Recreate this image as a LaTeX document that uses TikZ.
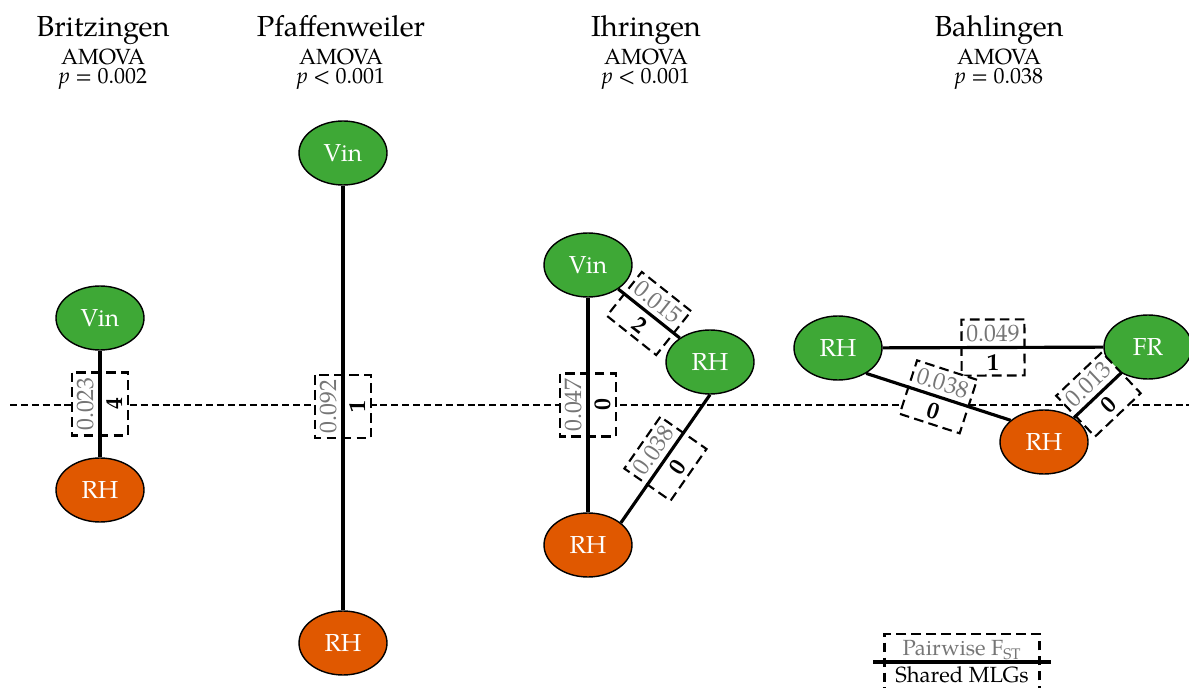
\documentclass[tikz,border=0pt]{standalone}
\usepackage{fontspec}
\setmainfont{TeX Gyre Pagella}
\usepackage{tikz}
\usepackage{xcolor}
\usetikzlibrary{shapes.geometric}

\definecolor{vingreen}{RGB}{62,168,54}
\definecolor{rhorange}{RGB}{224,88,0}
\definecolor{fstgray}{RGB}{118,118,118}

\newcommand{\fstval}[1]{\textcolor{fstgray}{#1}}
\newcommand{\mlgval}[1]{\textbf{#1}}

\tikzset{
  site/.style={ellipse, draw=black, line width=0.8pt, minimum width=1.76cm,
    minimum height=1.28cm, inner sep=0pt, text=white,
    font=\fontsize{14}{16}\selectfont},
  vinsite/.style={site, fill=vingreen},
  rhsite/.style={site, fill=rhorange},
  link/.style={line width=1.8pt},
  midline/.style={line width=1.1pt, dash pattern=on 4pt off 2.2pt},
  pairbox/.style={draw, fill=white, behind path, sloped, allow upside down,
    line width=1.2pt, dash pattern=on 5.5pt off 3pt, minimum width=1.26cm,
    inner xsep=2.5pt, inner ysep=3pt, align=center,
    font=\fontsize{13.5}{16.5}\selectfont},
  town/.style={anchor=base, font=\fontsize{16.5}{18}\selectfont},
  amova/.style={anchor=base, font=\fontsize{12.5}{14}\selectfont},
}

\begin{document}
\begin{tikzpicture}[x=0.02cm,y=-0.02cm]
        \useasboundingbox (0,0) rectangle (1189,688);

        % headers
        \node[town] (brzName) at (103,37) {Britzingen};
        \node[amova] (brzTest) at (103,65) {AMOVA};
        \node[amova] (brzP) at (103,84) {\textit{p} = 0.002};
        \node[town] (pfaName) at (341,37) {Pfaffenweiler};
        \node[amova] (pfaTest) at (341,65) {AMOVA};
        \node[amova] (pfaP) at (341,84) {\textit{p} < 0.001};
        \node[town] (ihrName) at (646,37) {Ihringen};
        \node[amova] (ihrTest) at (646,65) {AMOVA};
        \node[amova] (ihrP) at (646,84) {\textit{p} < 0.001};
        \node[town] (bahName) at (999,37) {Bahlingen};
        \node[amova] (bahTest) at (999,65) {AMOVA};
        \node[amova] (bahP) at (999,84) {\textit{p} = 0.038};

        % dashed middle line
        \coordinate (midL) at (10,405);
        \coordinate (midR) at (1189,405);
        \draw[midline] (midL) -- (midR);

        % populations
        \node[vinsite] (brzVin) at (100,318) {Vin};
        \node[rhsite] (brzRH) at (100,490) {RH};
        \node[vinsite] (pfaVin) at (343,153) {Vin};
        \node[rhsite] (pfaRH) at (343,643) {RH};
        \node[vinsite] (ihrVin) at (588,265) {Vin};
        \node[vinsite] (ihrRHg) at (710,362) {RH};
        \node[rhsite] (ihrRHo) at (588,545) {RH};
        \node[vinsite] (bahRHg) at (838,348) {RH};
        \node[vinsite] (bahFR) at (1148,347) {FR};
        \node[rhsite] (bahRHo) at (1044,442) {RH};

        % Britzingen
        \draw[link] (brzRH) -- node[pairbox] {\fstval{0.023}\\\mlgval{4}} (brzVin);

        % Pfaffenweiler
        \draw[link] (pfaRH) -- node[pairbox, pos=0.48] {\fstval{0.092}\\\mlgval{1}} (pfaVin);

        % Ihringen
        \draw[link] (ihrRHo) -- node[pairbox] {\fstval{0.047}\\\mlgval{0}} (ihrVin);
        \draw[link] (ihrVin) -- node[pairbox] {\fstval{0.015}\\\mlgval{2}} (ihrRHg);
        \draw[link] (ihrRHo.34) -- node[pairbox] {\fstval{0.038}\\\mlgval{0}} (ihrRHg.south);

        % Bahlingen
        \draw[link] (bahRHg) -- node[pairbox] {\fstval{0.049}\\\mlgval{1}} (bahFR);
        \draw[link] (bahRHg.-42) -- node[pairbox] {\fstval{0.038}\\\mlgval{0}} (bahRHo.147);
        \draw[link] (bahRHo.39) -- node[pairbox, pos=0.52] {\fstval{0.013}\\\mlgval{0}} (bahFR.-136);

        % key
        \coordinate (keyL) at (873,662);
        \coordinate (keyR) at (1051,662);
        \draw[link] (keyL) -- node[pairbox, minimum width=3.1cm, inner ysep=3.5pt, font=\fontsize{12.5}{15.5}\selectfont]
          {\fstval{Pairwise F\textsubscript{ST}}\\Shared MLGs} (keyR);
\end{tikzpicture}
\end{document}
